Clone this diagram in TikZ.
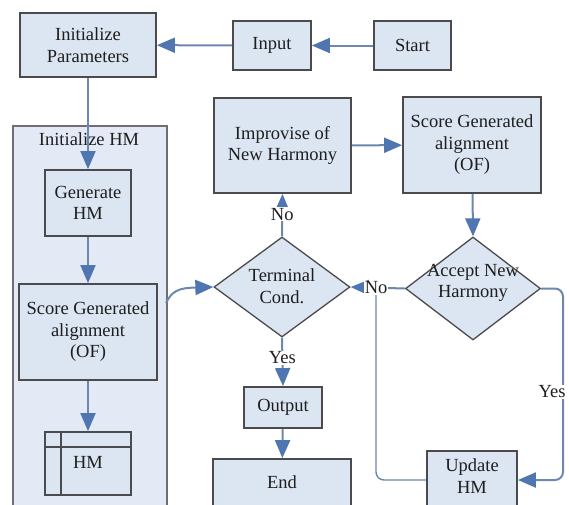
\documentclass[tikz,border=0pt]{standalone}
\usepackage{fontspec}
\setmainfont{Liberation Serif}
\usetikzlibrary{shapes.geometric,arrows.meta}
\definecolor{boxfill}{RGB}{220,229,242}
\definecolor{contfill}{RGB}{228,234,245}
\definecolor{boxline}{RGB}{75,75,78}
\definecolor{contline}{RGB}{110,110,115}
\definecolor{arrowc}{RGB}{79,118,176}
\definecolor{linec}{RGB}{110,135,175}
\definecolor{txt}{RGB}{30,30,30}
\begin{document}
\begin{tikzpicture}[x=1pt,y=-1pt,
 every node/.style={text=txt, font=\rmfamily\fontsize{18.5}{21.5}\selectfont},
 box/.style={draw=boxline, fill=boxfill, line width=1.8pt, align=center, inner sep=0pt},
 dia/.style={diamond, draw=boxline, fill=boxfill, line width=1.3pt, inner sep=0pt},
 arr/.style={draw=linec, line width=2pt, -{Triangle[length=18pt,width=15pt,color=arrowc]}},
 plainline/.style={draw=linec, line width=1.4pt},
 lbl/.style={fill=white, inner sep=1pt}
]
\useasboundingbox (0,0) rectangle (569,504);
\fill[white] (0,0) rectangle (569,504);

% container
\node[box, fill=contfill, draw=contline, minimum width=154pt, minimum height=390pt, anchor=north west] (inithm) at (12,125) {};
\node (inithmt) at (89,139) {Initialize HM};

% boxes
\node[box, minimum width=136pt, minimum height=64pt] (initp) at (88,45) {Initialize\\Parameters};
\node[box, minimum width=78pt, minimum height=49pt] (input) at (272,45.5) {Input};
\node[box, minimum width=77pt, minimum height=49pt] (start) at (412.5,45.5) {Start};
\node[box, minimum width=86pt, minimum height=66pt] (genhm) at (88,203) {Generate\\HM};
\node[box, minimum width=138pt, minimum height=96pt] (scorel) at (88,332) {Score Generated\\alignment\\(OF)};
\node[box, minimum width=86pt, minimum height=63pt] (hm) at (88,463.5) {};
\node (hmt) at (88,462) {HM};
\draw[boxline, line width=1.8pt] ([yshift=-16pt]hm.north west) -- ([yshift=-16pt]hm.north east);
\draw[boxline, line width=1.8pt] ([xshift=17pt]hm.north west) -- ([xshift=17pt]hm.south west);

\node[box, minimum width=137pt, minimum height=95pt] (improv) at (282.5,145.5) {Improvise of\\New Harmony};
\node[box, minimum width=138pt, minimum height=96pt] (scorer) at (472,145) {Score Generated\\alignment\\(OF)};

\node[dia, minimum width=136pt, minimum height=100pt] (term) at (282,287) {};
\node[align=center] (termt) at (282,286) {Terminal\\Cond.};
\node[dia, minimum width=135pt, minimum height=103pt] (accept) at (473,288.5) {};
\node[align=center] (acceptt) at (473,283) {Accept New\\Harmony};

\node[box, minimum width=78pt, minimum height=41pt] (output) at (283,407.5) {Output};
\node[box, minimum width=138pt, minimum height=52pt] (endb) at (282,485) {};
\node (endt) at (282,482) {End};
\node[box, minimum width=90pt, minimum height=58pt] (update) at (472,480) {};
\node[align=center] (updatet) at (472,476) {Update\\HM};

% connectors
\draw[arr] (start) -- (input);
\draw[arr] (input) -- (initp);
\draw[arr] (initp.south) -- (genhm.north);
\draw[arr] (genhm) -- (scorel);
\draw[arr] (scorel) -- (hm);
\coordinate (c1) at (166,303);
\draw[arr] (c1) .. controls (172,291) and (178,288) .. (term.west);
\draw[arr] (improv) -- (scorer);
\draw[arr] (scorer) -- (accept.north);
\draw[arr] (term.north) -- node[lbl, pos=0.52] (nolbl1) {No} (improv.south);
\draw[arr] (term.south) -- node[lbl, pos=0.42] (yeslbl1) {Yes} (output.north);
\draw[arr] (output) -- (endb);

\coordinate (r1) at (563,288.5);
\coordinate (l1) at (376,288.5);
\draw[arr, rounded corners=8pt] (accept.east) -- (r1) -- (r1 |- update.east) -- (update.east);
\node[lbl] (yeslbl2) at (552,392) {Yes};
\draw[plainline, rounded corners=8pt] (update.west) -- (l1 |- update.west) -- (l1);
\draw[arr] (accept.west) -- node[lbl, pos=0.53] (nolbl2) {No} (term.east);
\end{tikzpicture}
\end{document}
